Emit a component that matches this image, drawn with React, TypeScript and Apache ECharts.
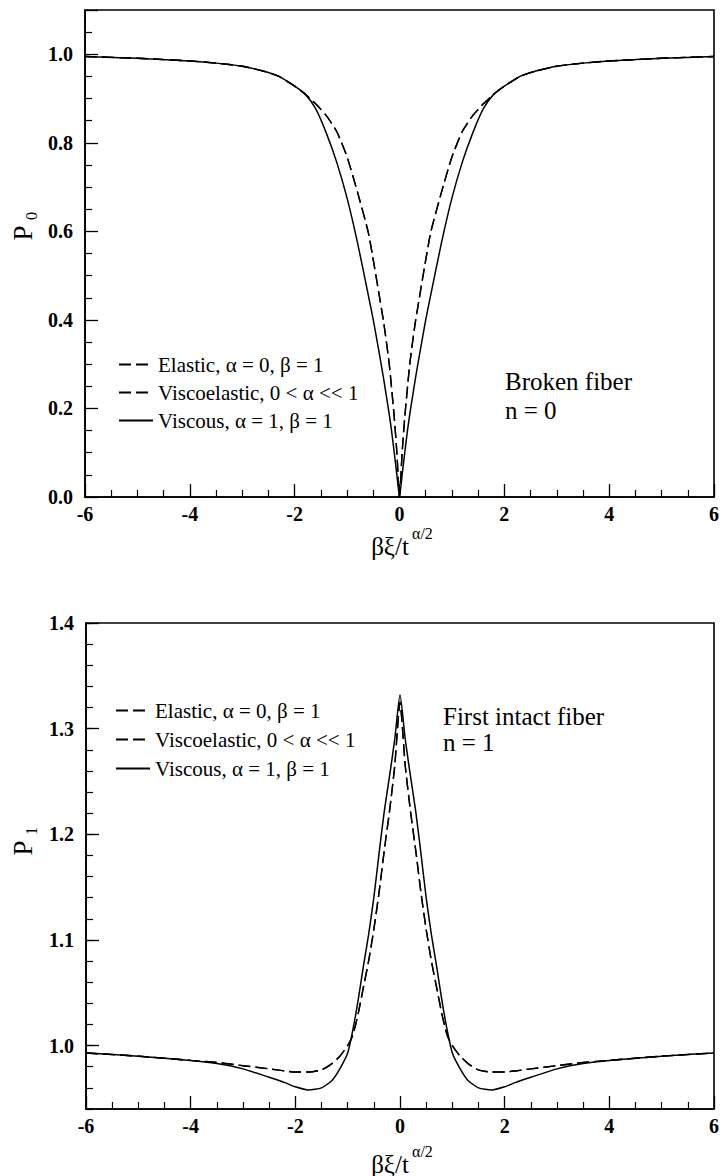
import React, { useEffect, useRef } from "react";
import * as echarts from "echarts";

const seriesNames = [
  "Elastic, α = 0, β = 1",
  "Viscoelastic, 0 < α << 1",
  "Viscous, α = 1, β = 1",
];

// Top panel: broken fiber, n = 0
const xTop = [
  -6, -5, -4.5, -4, -3.5, -3, -2.6, -2.3, -2, -1.8, -1.6, -1.4, -1.2, -1, -0.8, -0.6, -0.5, -0.4, -0.3, -0.2, -0.15, -0.1, -0.05,
  0,
  0.05, 0.1, 0.15, 0.2, 0.3, 0.4, 0.5, 0.6, 0.8, 1, 1.2, 1.4, 1.6, 1.8, 2, 2.3, 2.6, 3, 3.5, 4, 4.5, 5, 6,
];
const elasticTop = [
  0.995, 0.991, 0.988, 0.985, 0.98, 0.973, 0.962, 0.95, 0.928, 0.91, 0.888, 0.862, 0.826, 0.768, 0.688, 0.6, 0.535, 0.465, 0.393, 0.305, 0.245, 0.18, 0.1,
  0.0,
  0.1, 0.18, 0.245, 0.305, 0.393, 0.465, 0.535, 0.6, 0.688, 0.768, 0.826, 0.862, 0.888, 0.91, 0.928, 0.95, 0.962, 0.973, 0.98, 0.985, 0.988, 0.991, 0.995,
];
const viscoelasticTop = [
  0.995, 0.991, 0.988, 0.985, 0.98, 0.973, 0.962, 0.95, 0.928, 0.91, 0.888, 0.862, 0.826, 0.768, 0.688, 0.6, 0.535, 0.465, 0.393, 0.305, 0.245, 0.18, 0.1,
  0.0,
  0.1, 0.18, 0.245, 0.305, 0.393, 0.465, 0.535, 0.6, 0.688, 0.768, 0.826, 0.862, 0.888, 0.91, 0.928, 0.95, 0.962, 0.973, 0.98, 0.985, 0.988, 0.991, 0.995,
];
const viscousTop = [
  0.995, 0.991, 0.988, 0.985, 0.98, 0.973, 0.962, 0.95, 0.928, 0.91, 0.877, 0.823, 0.757, 0.675, 0.574, 0.459, 0.4, 0.334, 0.265, 0.19, 0.148, 0.1, 0.05,
  0.0,
  0.05, 0.1, 0.148, 0.19, 0.265, 0.334, 0.4, 0.459, 0.574, 0.675, 0.757, 0.823, 0.877, 0.91, 0.928, 0.95, 0.962, 0.973, 0.98, 0.985, 0.988, 0.991, 0.995,
];

// Bottom panel: first intact fiber, n = 1
const xBottom = [
  -6, -5, -4, -3.5, -3, -2.5, -2.2, -2, -1.75, -1.5, -1.3, -1.15, -1, -0.9, -0.8, -0.7, -0.6, -0.5, -0.4, -0.3, -0.2, -0.1,
  0,
  0.1, 0.2, 0.3, 0.4, 0.5, 0.6, 0.7, 0.8, 0.9, 1, 1.15, 1.3, 1.5, 1.75, 2, 2.2, 2.5, 3, 3.5, 4, 5, 6,
];
const elasticBottom = [
  0.993, 0.99, 0.986, 0.984, 0.981, 0.978, 0.976, 0.975, 0.975, 0.977, 0.983, 0.99, 1.0, 1.01, 1.03, 1.055, 1.08, 1.11, 1.145, 1.185, 1.222, 1.265,
  1.325,
  1.265, 1.222, 1.185, 1.145, 1.11, 1.08, 1.055, 1.03, 1.01, 1.0, 0.99, 0.983, 0.977, 0.975, 0.975, 0.976, 0.978, 0.981, 0.984, 0.986, 0.99, 0.993,
];
const viscoelasticBottom = [
  0.993, 0.99, 0.986, 0.984, 0.981, 0.978, 0.976, 0.975, 0.975, 0.977, 0.983, 0.99, 1.0, 1.01, 1.03, 1.055, 1.08, 1.11, 1.145, 1.185, 1.222, 1.265,
  1.325,
  1.265, 1.222, 1.185, 1.145, 1.11, 1.08, 1.055, 1.03, 1.01, 1.0, 0.99, 0.983, 0.977, 0.975, 0.975, 0.976, 0.978, 0.981, 0.984, 0.986, 0.99, 0.993,
];
const viscousBottom = [
  0.993, 0.99, 0.986, 0.983, 0.978, 0.97, 0.965, 0.961, 0.958, 0.96, 0.967, 0.978, 0.993, 1.015, 1.043, 1.075, 1.105, 1.14, 1.182, 1.222, 1.255, 1.29,
  1.332,
  1.29, 1.255, 1.222, 1.182, 1.14, 1.105, 1.075, 1.043, 1.015, 0.993, 0.978, 0.967, 0.96, 0.958, 0.961, 0.965, 0.97, 0.978, 0.983, 0.986, 0.99, 0.993,
];

const bottomMajorTicks = [1.0, 1.1, 1.2, 1.3, 1.4];

const FONT = "Liberation Serif";

export default function App() {
  const ref = useRef<HTMLDivElement>(null);

  useEffect(() => {
    if (!ref.current) return;
    const chart = echarts.init(ref.current, null, { renderer: "svg" });

    const pair = (xs: number[], ys: number[]) => xs.map((x, i) => [x, ys[i]]);

    const axisLine = { show: true, onZero: false, lineStyle: { color: "#000", width: 1.6 } };
    const tickLabel = { color: "#000", fontFamily: FONT, fontSize: 20, fontWeight: "bold" };

    const xAxisBase = (gridIndex: number) => ({
      type: "value",
      gridIndex,
      min: -6,
      max: 6,
      interval: 2,
      axisLine,
      axisTick: { show: true, inside: true, length: 13, lineStyle: { color: "#000", width: 1.3 } },
      minorTick: { show: true, splitNumber: 4, length: 7, lineStyle: { color: "#000", width: 1.2 } },
      splitLine: { show: false },
      axisLabel: { ...tickLabel, margin: 7 },
    });

    const dashed = { color: "#000", width: 1.4, type: [12, 5] };
    const solid = { color: "#000", width: 1.5, type: "solid" };

    const mk = (name: string, xs: number[], ys: number[], idx: number, ls: any) => ({
      name,
      type: "line",
      xAxisIndex: idx,
      yAxisIndex: idx,
      data: pair(xs, ys),
      symbol: "none",
      showSymbol: false,
      smooth: 0.2,
      lineStyle: ls,
      itemStyle: { color: "#000" },
      z: 3,
    });

    const legendBase = {
      orient: "vertical",
      itemWidth: 34,
      itemHeight: 2,
      selectedMode: false,
      data: seriesNames,
      itemStyle: { opacity: 0 },
      textStyle: { color: "#000", fontFamily: FONT, fontSize: 21 },
    };

    const txt = (text: string, x: number, y: number, size: number, align = "left", rotation = 0) => ({
      type: "text",
      x,
      y,
      rotation,
      silent: true,
      style: {
        text,
        fontSize: size,
        fontFamily: FONT,
        fill: "#000",
        align,
        verticalAlign: "middle",
        textAlign: align,
        textVerticalAlign: "middle",
      },
    });

    chart.setOption({
      animation: false,
      backgroundColor: "#fff",
      textStyle: { fontFamily: FONT },
      grid: [
        { left: 85, top: 10, width: 631, height: 487, show: true, borderColor: "#000", borderWidth: 1.6, backgroundColor: "transparent" },
        { left: 86, top: 623, width: 631, height: 486, show: true, borderColor: "#000", borderWidth: 1.6, backgroundColor: "transparent" },
      ],
      xAxis: [xAxisBase(0), xAxisBase(1)],
      yAxis: [
        {
          type: "value",
          gridIndex: 0,
          position: "left",
          min: 0,
          max: 1.1,
          interval: 0.2,
          axisLine,
          axisTick: { show: true, inside: true, length: 13, lineStyle: { color: "#000", width: 1.3 } },
          minorTick: { show: true, splitNumber: 4, length: 7, lineStyle: { color: "#000", width: 1.2 } },
          splitLine: { show: false },
          axisLabel: {
            ...tickLabel,
            margin: 12,
            formatter: (v: number) => (Math.abs(v / 0.2 - Math.round(v / 0.2)) < 1e-6 ? v.toFixed(1) : ""),
          },
        },
        {
          type: "value",
          gridIndex: 1,
          position: "left",
          min: 0.94,
          max: 1.4,
          interval: 0.02,
          axisLine,
          axisTick: { show: true, inside: true, length: 7, lineStyle: { color: "#000", width: 1.2 } },
          splitLine: { show: false },
          axisLabel: {
            ...tickLabel,
            margin: 12,
            formatter: (v: number) => (Math.abs(v * 10 - Math.round(v * 10)) < 1e-6 ? v.toFixed(1) : ""),
          },
        },
        {
          type: "value",
          gridIndex: 1,
          position: "left",
          min: 0.94,
          max: 1.4,
          axisLine: { show: false, onZero: false },
          axisTick: { show: true, inside: true, length: 13, customValues: bottomMajorTicks, lineStyle: { color: "#000", width: 1.3 } },
          axisLabel: { show: false },
          splitLine: { show: false },
        },
      ],
      legend: [
        { ...legendBase, left: 113, top: 349, itemGap: 7 },
        { ...legendBase, left: 110, top: 695, itemGap: 8 },
      ],
      series: [
        mk(seriesNames[0], xTop, elasticTop, 0, dashed),
        mk(seriesNames[1], xTop, viscoelasticTop, 0, dashed),
        mk(seriesNames[2], xTop, viscousTop, 0, solid),
        mk(seriesNames[0], xBottom, elasticBottom, 1, dashed),
        mk(seriesNames[1], xBottom, viscoelasticBottom, 1, dashed),
        mk(seriesNames[2], xBottom, viscousBottom, 1, solid),
      ],
      graphic: [
        txt("Broken fiber", 505, 381, 25),
        txt("n = 0", 505, 410, 25),
        txt("First intact fiber", 443, 716, 25),
        txt("n = 1", 443, 742, 25),
        txt("P", 23, 233, 27, "center", Math.PI / 2),
        txt("0", 31, 216, 16, "center", Math.PI / 2),
        txt("P", 23, 848, 27, "center", Math.PI / 2),
        txt("1", 31, 831, 16, "center", Math.PI / 2),
        txt("βξ/t", 390, 546, 25, "center"),
        txt("α/2", 412, 533, 16, "left"),
        txt("βξ/t", 390, 1164, 25, "center"),
        txt("α/2", 412, 1151, 16, "left"),
      ],
    });

    return () => chart.dispose();
  }, []);

  return (
    <div
      ref={ref}
      style={{ position: "absolute", left: 0, top: 0, width: 722, height: 1176, background: "#fff" }}
    />
  );
}
